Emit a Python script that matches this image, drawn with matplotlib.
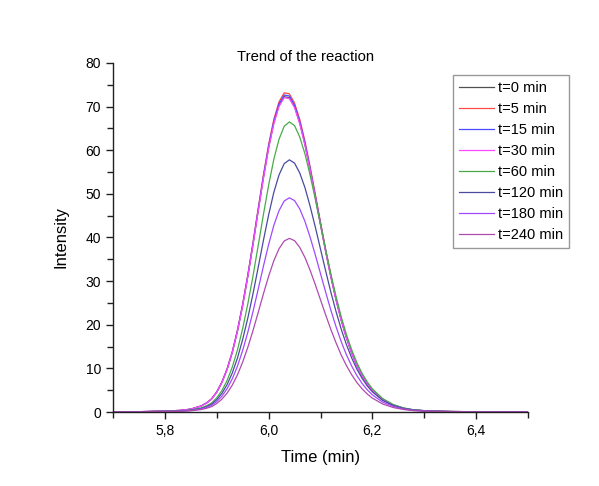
import numpy as np
import matplotlib
matplotlib.use('Agg')
import matplotlib.pyplot as plt
from matplotlib.ticker import MultipleLocator, FuncFormatter

# sampled time axis [min]
time = [5.70, 5.75, 5.80, 5.83, 5.85, 5.87, 5.88, 5.89, 5.90, 5.91, 5.92, 5.93,
        5.94, 5.95, 5.96, 5.97, 5.98, 5.99, 6.00, 6.01, 6.02, 6.03, 6.04, 6.05,
        6.06, 6.07, 6.08, 6.09, 6.10, 6.11, 6.12, 6.13, 6.14, 6.15, 6.16, 6.17,
        6.18, 6.19, 6.20, 6.22, 6.24, 6.26, 6.28, 6.31, 6.35, 6.40, 6.45, 6.50]

# intensities
t0 = [0.04, 0.07, 0.22, 0.36, 0.65, 1.38, 2.03, 2.97, 4.57, 6.81, 9.80, 13.68,
      18.59, 24.47, 31.17, 38.52, 46.22, 53.72, 60.60, 66.25, 70.23, 72.26, 72.04, 69.94,
      66.25, 61.32, 55.53, 49.30, 43.01, 36.78, 30.99, 25.70, 21.00, 16.99, 13.54, 10.69,
      8.33, 6.44, 4.92, 2.82, 1.56, 0.85, 0.45, 0.22, 0.11, 0.06, 0.03, 0.01]
t5 = [0.04, 0.07, 0.22, 0.37, 0.66, 1.39, 2.05, 3.01, 4.63, 6.89, 9.92, 13.85,
      18.82, 24.78, 31.56, 39.00, 46.79, 54.39, 61.35, 67.07, 71.10, 73.15, 72.93, 70.81,
      67.07, 62.09, 56.22, 49.92, 43.54, 37.24, 31.37, 26.02, 21.26, 17.20, 13.71, 10.82,
      8.43, 6.52, 4.98, 2.86, 1.58, 0.86, 0.45, 0.22, 0.11, 0.06, 0.03, 0.01]
t15 = [0.04, 0.07, 0.22, 0.36, 0.66, 1.38, 2.04, 2.98, 4.59, 6.84, 9.85, 13.76,
       18.69, 24.61, 31.34, 38.73, 46.48, 54.02, 60.93, 66.61, 70.62, 72.65, 72.44, 70.32,
       66.61, 61.66, 55.84, 49.58, 43.24, 36.98, 31.16, 25.84, 21.11, 17.08, 13.61, 10.75,
       8.37, 6.48, 4.95, 2.84, 1.57, 0.85, 0.45, 0.22, 0.11, 0.06, 0.03, 0.01]
t30 = [0.04, 0.07, 0.22, 0.36, 0.65, 1.37, 2.02, 2.96, 4.56, 6.79, 9.77, 13.65,
       18.53, 24.40, 31.08, 38.41, 46.09, 53.57, 60.43, 66.06, 70.03, 72.06, 71.84, 69.75,
       66.06, 61.15, 55.38, 49.17, 42.89, 36.68, 30.90, 25.63, 20.94, 16.94, 13.50, 10.66,
       8.30, 6.43, 4.91, 2.82, 1.56, 0.84, 0.45, 0.22, 0.11, 0.06, 0.03, 0.01]
t60 = [0.03, 0.05, 0.17, 0.27, 0.47, 0.93, 1.40, 2.06, 3.26, 4.92, 7.25, 10.31,
       14.27, 19.15, 24.84, 31.26, 38.22, 45.29, 51.98, 57.92, 62.51, 65.50, 66.50, 65.64,
       63.04, 59.19, 54.26, 48.77, 42.96, 37.17, 31.59, 26.47, 21.81, 17.76, 14.30, 11.33,
       8.91, 6.92, 5.32, 3.06, 1.73, 0.94, 0.51, 0.23, 0.12, 0.06, 0.03, 0.02]
t120 = [0.02, 0.05, 0.14, 0.23, 0.40, 0.81, 1.21, 1.79, 2.83, 4.28, 6.30, 8.96,
        12.40, 16.65, 21.59, 27.17, 33.22, 39.36, 45.18, 50.34, 54.33, 56.93, 57.80, 57.05,
        54.79, 51.44, 47.16, 42.39, 37.34, 32.31, 27.46, 23.00, 18.96, 15.43, 12.43, 9.85,
        7.75, 6.01, 4.62, 2.66, 1.50, 0.82, 0.44, 0.20, 0.10, 0.05, 0.03, 0.02]
t180 = [0.02, 0.04, 0.12, 0.20, 0.34, 0.69, 1.03, 1.52, 2.41, 3.63, 5.35, 7.61,
        10.54, 14.14, 18.34, 23.08, 28.22, 33.44, 38.38, 42.77, 46.15, 48.36, 49.10, 48.46,
        46.55, 43.70, 40.07, 36.01, 31.72, 27.45, 23.32, 19.54, 16.10, 13.11, 10.56, 8.37,
        6.58, 5.11, 3.93, 2.26, 1.28, 0.70, 0.37, 0.17, 0.09, 0.04, 0.02, 0.01]
t240 = [0.02, 0.03, 0.10, 0.16, 0.28, 0.56, 0.84, 1.23, 1.95, 2.95, 4.34, 6.17,
        8.54, 11.46, 14.87, 18.71, 22.87, 27.10, 31.11, 34.67, 37.41, 39.20, 39.80, 39.28,
        37.73, 35.42, 32.48, 29.19, 25.71, 22.25, 18.91, 15.84, 13.05, 10.63, 8.56, 6.78,
        5.33, 4.14, 3.18, 1.83, 1.03, 0.57, 0.30, 0.14, 0.07, 0.04, 0.02, 0.01]

labels = ['t=0 min', 't=5 min', 't=15 min', 't=30 min', 't=60 min',
          't=120 min', 't=180 min', 't=240 min']
series = [t0, t5, t15, t30, t60, t120, t180, t240]
colors = ['#505050', '#ff4a4a', '#4a4aff', '#ff4aff', '#4aaa4a', '#4a4aa0', '#a04aff', '#b04ab0']

plt.rcParams['font.family'] = ['Liberation Sans', 'DejaVu Sans']

fig = plt.figure(figsize=(5.99, 4.86), dpi=100)
ax = fig.add_axes([113/599, 1-412/486, 415/599, 349/486])

for y, c, lab in zip(series, colors, labels):
    ax.plot(time, y, color=c, lw=0.9, label=lab)

ax.set_xlim(5.7, 6.5)
ax.set_ylim(0, 80)
ax.spines['top'].set_visible(False)
ax.spines['right'].set_visible(False)
for s in ['left', 'bottom']:
    ax.spines[s].set_linewidth(1.0)
    ax.spines[s].set_color('#202020')

ax.xaxis.set_major_locator(MultipleLocator(0.2))
ax.xaxis.set_minor_locator(MultipleLocator(0.1))
ax.yaxis.set_major_locator(MultipleLocator(10))
ax.yaxis.set_minor_locator(MultipleLocator(5))
# comma as decimal separator
ax.xaxis.set_major_formatter(FuncFormatter(lambda v, p: '{0:.1f}'.format(v).replace('.', ',')))
ax.tick_params(which='major', direction='out', length=5, width=1, labelsize=10, color='#202020')
ax.tick_params(which='minor', direction='out', length=4, width=1, color='#202020')

ax.set_xlabel('Time (min)', fontsize=12, labelpad=9)
ax.set_ylabel('Intensity', fontsize=12, labelpad=12)
fig.text(306/599, 1-57/486, 'Trend of the reaction', ha='center', va='center', fontsize=10.7)

leg = ax.legend(loc='upper left', bbox_to_anchor=(453/599, 1-75/486), bbox_transform=fig.transFigure,
                fontsize=10.5, frameon=True, fancybox=False, edgecolor='#808080',
                handlelength=2.4, handletextpad=0.3, labelspacing=0.48, borderaxespad=0,
                borderpad=0.4)
leg.get_frame().set_linewidth(1.0)

fig.savefig('out.png', dpi=100)
